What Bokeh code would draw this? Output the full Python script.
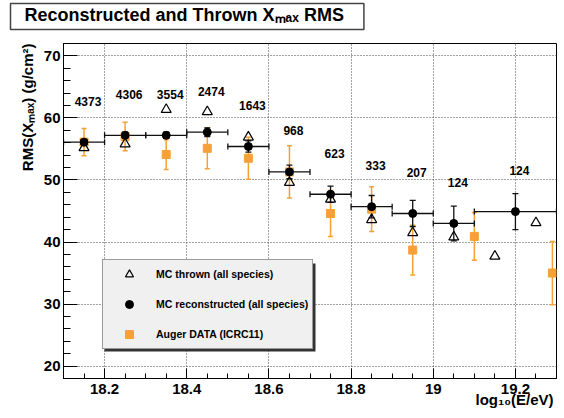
import math
from bokeh.plotting import figure
from bokeh.models import (ColumnDataSource, Whisker, TeeHead, BoxAnnotation,
                          Legend, LegendItem, FixedTicker, Title)
from bokeh.core.properties import value
from bokeh.embed import file_html
from bokeh.resources import INLINE

# ---------------- data ----------------
bin_x = [18.15, 18.25, 18.35, 18.45, 18.55, 18.65, 18.75, 18.85, 18.95, 19.05, 19.2]
bin_lo = [18.1, 18.2, 18.3, 18.4, 18.5, 18.6, 18.7, 18.8, 18.9, 19.0, 19.1]
bin_hi = [18.2, 18.3, 18.4, 18.5, 18.6, 18.7, 18.8, 18.9, 19.0, 19.1, 19.3]
rec_rms = [56.1, 57.2, 57.2, 57.7, 55.4, 51.3, 47.7, 45.7, 44.6, 43.0, 44.9]
rec_err = [0.4, 0.5, 0.5, 0.7, 0.9, 1.1, 1.3, 1.8, 2.1, 2.8, 2.9]
counts = ["4373", "4306", "3554", "2474", "1643", "968", "623", "333", "207", "124", "124"]

thrown_x = [18.15, 18.25, 18.35, 18.45, 18.55, 18.65, 18.75, 18.85, 18.95, 19.05, 19.15, 19.25]
thrown_rms = [55.2, 55.8, 61.35, 61.0, 56.9, 49.6, 46.9, 43.6, 41.5, 40.8, 37.7, 43.1]

auger_x = [18.15, 18.25, 18.35, 18.45, 18.55, 18.65, 18.75, 18.85, 18.95, 19.1, 19.29]
auger_rms = [56.1, 57.0, 54.1, 55.1, 53.5, 51.3, 44.6, 45.3, 38.7, 40.9, 35.0]
auger_err = [2.2, 2.3, 2.4, 3.3, 3.4, 4.2, 3.7, 3.6, 4.0, 3.85, 5.1]

x_ticks = [18.2, 18.4, 18.6, 18.8, 19.0, 19.2]
x_tick_labels = ["18.2", "18.4", "18.6", "18.8", "19", "19.2"]
y_ticks = [20, 30, 40, 50, 60, 70]

title_text = "Reconstructed and Thrown X\u2098\u2090\u2093 RMS"
x_label = "log\u2081\u2080(E/eV)"
y_label = "RMS(X\u2098\u2090\u2093) (g/cm\u00b2)"
legend_labels = ["MC thrown (all species)", "MC reconstructed (all species)", "Auger DATA (ICRC11)"]

LABEL_OFFSET = 6.6   # count labels sit above the reconstructed points

# ---------------- layout ----------------
X0, X1, Y0, Y1 = 18.1, 19.3, 18.0, 72.0
W, H = 564, 418
FL, FR, FT, FB = 63, 556, 43, 378

def sx(px):
    return X0 + (px - FL) * (X1 - X0) / (FR - FL)

def sy(py):
    return Y1 - (py - FT) * (Y1 - Y0) / (FB - FT)

FONT = "Liberation Sans"
ORANGE = "#f7a035"

p = figure(width=W, height=H, x_range=(X0, X1), y_range=(Y0, Y1), title=None,
           output_backend="svg", toolbar_location=None,
           min_border_left=FL, min_border_right=W - FR,
           min_border_top=FT, min_border_bottom=H - FB)
p.background_fill_color = "white"
p.border_fill_color = "white"
p.outline_line_color = "black"
p.outline_line_width = 1

# axes
p.xaxis.ticker = FixedTicker(ticks=x_ticks,
                             minor_ticks=[round(X0 + 0.05 * i, 2) for i in range(25)])
p.yaxis.ticker = FixedTicker(ticks=y_ticks, minor_ticks=list(range(18, 73, 2)))
p.xaxis.major_label_overrides = {t: l for t, l in zip(x_ticks, x_tick_labels)}
for ax in (p.xaxis[0], p.yaxis[0]):
    ax.major_tick_out = 0
    ax.minor_tick_out = 0
    ax.axis_line_color = "black"
    ax.major_tick_line_color = "black"
    ax.minor_tick_line_color = "black"
    ax.major_label_text_font = FONT
    ax.major_label_text_font_style = "bold"
    ax.major_label_text_font_size = "15px"
    ax.major_label_text_color = "black"
p.xaxis.major_tick_in = 10
p.xaxis.minor_tick_in = 5
p.yaxis.major_tick_in = 14
p.yaxis.minor_tick_in = 7
p.xaxis.major_label_standoff = 5
p.yaxis.major_label_standoff = 3

for g in (p.xgrid[0], p.ygrid[0]):
    g.grid_line_color = "#444444"
    g.grid_line_dash = "1 2"
    g.grid_line_width = 1

# ---------------- data marks ----------------
auger_src = ColumnDataSource(dict(x=auger_x, y=auger_rms,
                                  lo=[v - e for v, e in zip(auger_rms, auger_err)],
                                  hi=[v + e for v, e in zip(auger_rms, auger_err)]))
rec_src = ColumnDataSource(dict(x=bin_x, y=rec_rms, xlo=bin_lo, xhi=bin_hi,
                                lo=[v - e for v, e in zip(rec_rms, rec_err)],
                                hi=[v + e for v, e in zip(rec_rms, rec_err)],
                                ly=[v + LABEL_OFFSET for v in rec_rms], txt=counts))
thr_src = ColumnDataSource(dict(x=thrown_x, y=thrown_rms))

p.add_layout(Whisker(source=auger_src, base="x", lower="lo", upper="hi", dimension="height",
                     line_color=ORANGE, line_width=1.5,
                     upper_head=TeeHead(size=5, line_color=ORANGE, line_width=1.5),
                     lower_head=TeeHead(size=5, line_color=ORANGE, line_width=1.5)))
r_auger = p.scatter("x", "y", source=auger_src, marker="square", size=8,
                    fill_color=ORANGE, line_color=ORANGE)

r_thr = p.scatter("x", "y", source=thr_src, marker="triangle", size=10,
                  fill_color=None, line_color="black", line_width=1.2)

p.add_layout(Whisker(source=rec_src, base="y", lower="xlo", upper="xhi", dimension="width",
                     line_color="#111111", line_width=1.3,
                     upper_head=TeeHead(size=6, line_color="#111111", line_width=1.3),
                     lower_head=TeeHead(size=6, line_color="#111111", line_width=1.3)))
p.add_layout(Whisker(source=rec_src, base="x", lower="lo", upper="hi", dimension="height",
                     line_color="#111111", line_width=1.3,
                     upper_head=TeeHead(size=6, line_color="#111111", line_width=1.3),
                     lower_head=TeeHead(size=6, line_color="#111111", line_width=1.3)))
r_rec = p.scatter("x", "y", source=rec_src, marker="circle", size=8,
                  fill_color="black", line_color="black")

p.text("x", "ly", text="txt", source=rec_src, x_offset=4,
       text_font=value(FONT), text_font_style="bold", text_font_size="12px",
       text_align="center", text_baseline="middle", text_color="black")

# ---------------- legend ----------------
p.add_layout(BoxAnnotation(left=sx(104), right=sx(315), top=sy(263), bottom=sy(351),
                           fill_color="#333333", fill_alpha=1, line_color=None))
legend = Legend(items=[LegendItem(label=legend_labels[0], renderers=[r_thr]),
                       LegendItem(label=legend_labels[1], renderers=[r_rec]),
                       LegendItem(label=legend_labels[2], renderers=[r_auger])],
                location=(39, 29), margin=0, padding=4, spacing=10,
                glyph_width=44, glyph_height=20, label_height=20, label_standoff=5,
                label_text_font=FONT, label_text_font_style="bold",
                label_text_font_size="10.5px", label_text_color="black",
                background_fill_color="#f0f0f0", background_fill_alpha=1,
                border_line_color="#444444", border_line_width=1)
p.add_layout(legend)

# ---------------- titles / axis labels (side panels) ----------------
def make_title(text, size, **kw):
    t = Title(text=text, text_font=FONT, text_font_style="bold",
              text_font_size=f"{size}px", text_color="black")
    for k, v in kw.items():
        try:
            setattr(t, k, v)
        except Exception:
            pass
    return t

# spacer pushes the boxed title up
p.add_layout(make_title(" ", 1, standoff=11), "above")
main_title = make_title(title_text, 18, align="left", vertical_align="bottom",
                        offset=-53, standoff=0,
                        background_fill_color="white", background_fill_alpha=1,
                        border_line_color="#444444", border_line_width=1.5)
try:
    main_title.padding = dict(left=14, right=20, top=1, bottom=5)
except Exception:
    try:
        main_title.padding = (14, 5)
    except Exception:
        pass
p.add_layout(main_title, "above")

p.add_layout(make_title(y_label, 15, align="right", vertical_align="bottom",
                        offset=0, standoff=9), "left")
xt = make_title(x_label, 15, align="right", vertical_align="top", offset=3, standoff=0)
try:
    xt.standoff = -11
except Exception:
    pass
p.add_layout(xt, "below")

open("out.html", "w").write(file_html(p, INLINE))
